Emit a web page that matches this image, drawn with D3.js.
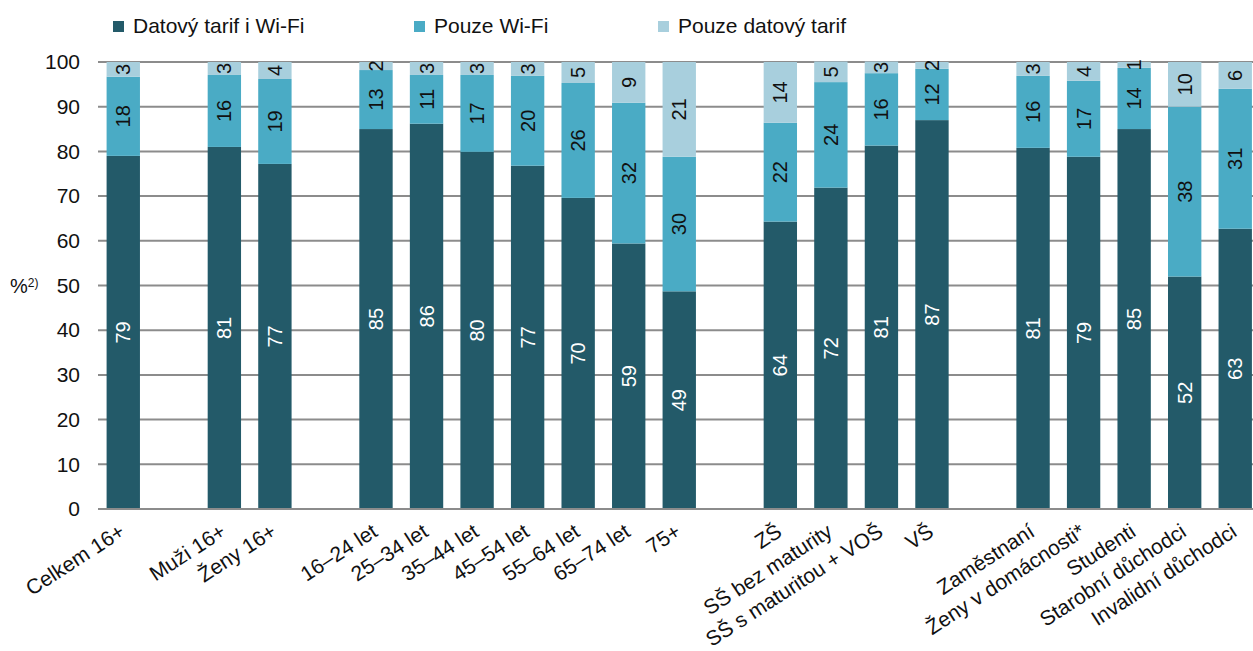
<!DOCTYPE html>
<html><head><meta charset="utf-8">
<script src="https://cdn.jsdelivr.net/npm/d3@7"></script>
<style>
html,body{margin:0;padding:0;background:#fff;}
svg{display:block;font-family:"Liberation Sans",Arial,sans-serif;}
</style></head>
<body>
<svg id="chart" width="1253" height="651"></svg>
<script>
// ---- data ----
const categories = ["Celkem 16+","Muži 16+","Ženy 16+","16–24 let","25–34 let","35–44 let","45–54 let","55–64 let","65–74 let","75+","ZŠ","SŠ bez maturity","SŠ s maturitou + VOŠ","VŠ","Zaměstnaní","Ženy v domácnosti*","Studenti","Starobní důchodci","Invalidní důchodci"];
const groupSizes = [1,2,7,4,5];
const seriesNames = ["Datový tarif i Wi-Fi","Pouze Wi-Fi","Pouze datový tarif"];
const datovyIWifi   = [79.0,81.0,77.2,85.0,86.2,79.9,76.8,69.6,59.4,48.7,64.3,71.9,81.3,87.0,80.8,78.8,85.0,52.0,62.7];
const pouzeWifi     = [17.7,16.1,19.0,13.2,10.9,17.2,20.1,25.7,31.5,30.1,22.1,23.6,16.2,11.5,16.1,17.0,13.7,38.0,31.3];
const pouzeDatovy   = [3.3,2.9,3.8,1.8,2.9,2.9,3.1,4.7,9.1,21.2,13.6,4.6,2.6,1.5,3.1,4.2,1.3,10.0,6.0];
const yTicks = [0,10,20,30,40,50,60,70,80,90,100];
const colors = ["#235a69","#4aabc5","#a8cfdd"];
const labelColors = ["#ffffff","#111111","#111111"];

// ---- layout ----
const svg = d3.select("#chart");
const mLeft = 98, mRight = 1260.5, mTop = 62, mBottom = 509;

// slots including gaps between groups
const slots = [];
let ci = 0;
groupSizes.forEach((g, gi) => {
  if (gi > 0) slots.push("gap" + gi);
  for (let k = 0; k < g; k++) slots.push(categories[ci++]);
});

const x = d3.scaleBand().domain(slots).range([mLeft, mRight]).paddingInner(0.34).paddingOuter(0.17);
const y = d3.scaleLinear().domain([0,100]).range([mBottom, mTop]);

// gridlines
svg.append("g").selectAll("line").data(yTicks).join("line")
  .attr("x1", mLeft).attr("x2", 1253)
  .attr("y1", d => y(d)).attr("y2", d => y(d))
  .attr("stroke", "#8c8c8c").attr("stroke-width", 2);

// y axis labels
const yAxis = d3.axisLeft(y).tickValues(yTicks).tickSize(0).tickPadding(18);
const yg = svg.append("g").attr("transform", `translate(${mLeft},0)`).call(yAxis);
yg.select(".domain").remove();
yg.selectAll("text").attr("font-size", 21).attr("fill", "#111").attr("font-family", "Liberation Sans, Arial, sans-serif");

// y title
const yt = svg.append("text").attr("x", 10).attr("y", y(50) + 7).attr("font-size", 20).attr("fill", "#111");
yt.append("tspan").text("%");
yt.append("tspan").attr("font-size", 12).attr("dy", -6).text("2)");

// stacked data
const rows = categories.map((c, i) => ({cat: c, v: [datovyIWifi[i], pouzeWifi[i], pouzeDatovy[i]]}));
const segs = [];
rows.forEach(r => {
  let acc = 0;
  r.v.forEach((v, s) => { segs.push({cat: r.cat, s, y0: acc, y1: acc + v, v}); acc += v; });
});

svg.append("g").selectAll("rect").data(segs).join("rect")
  .attr("x", d => x(d.cat)).attr("width", x.bandwidth())
  .attr("y", d => y(d.y1)).attr("height", d => y(d.y0) - y(d.y1))
  .attr("fill", d => colors[d.s]);

svg.append("g").selectAll("text").data(segs).join("text")
  .attr("transform", d => `translate(${x(d.cat) + x.bandwidth()/2 + 7},${y((d.y0 + d.y1)/2)}) rotate(-90)`)
  .attr("text-anchor", "middle")
  .attr("font-size", 20).attr("fill", d => labelColors[d.s])
  .text(d => Math.round(d.v));

// x axis baseline
svg.append("line").attr("x1", mLeft).attr("x2", 1253).attr("y1", y(0)).attr("y2", y(0))
  .attr("stroke", "#8c8c8c").attr("stroke-width", 2);

// x labels
svg.append("g").selectAll("text").data(categories).join("text")
  .attr("transform", d => `translate(${x(d) + x.bandwidth()/2 + 3},${mBottom + 26}) rotate(-33)`)
  .attr("text-anchor", "end").attr("font-size", 21).attr("fill", "#111")
  .text(d => d);

// legend
const legX = [113, 414, 658];
const lg = svg.append("g").selectAll("g").data(seriesNames).join("g")
  .attr("transform", (d, i) => `translate(${legX[i]},21)`);
lg.append("rect").attr("width", 11).attr("height", 11).attr("fill", (d, i) => colors[i]);
lg.append("text").attr("x", 20).attr("y", 12).attr("font-size", 21).attr("fill", "#111").text(d => d);
</script>
</body></html>
